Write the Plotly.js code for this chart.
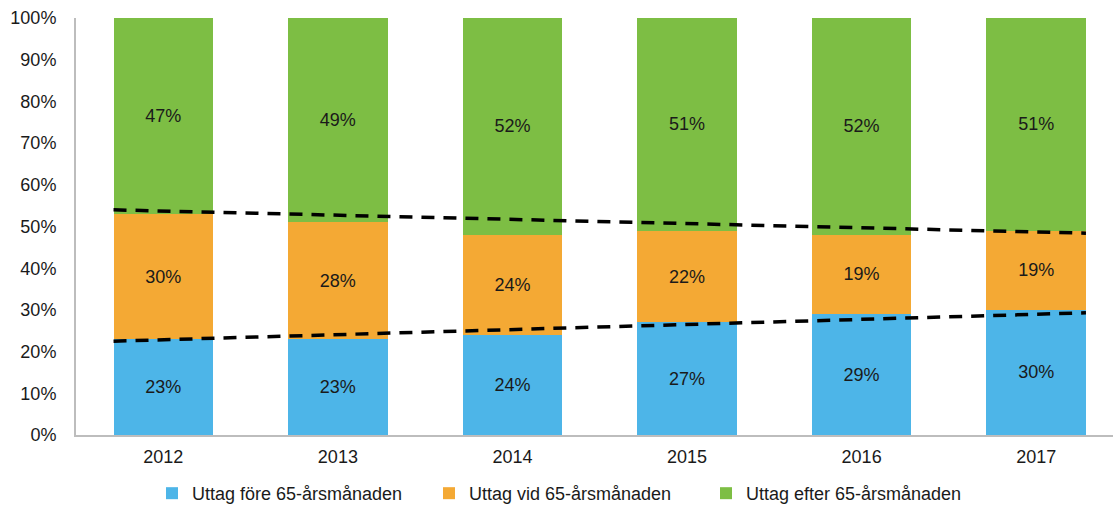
<!DOCTYPE html>
<html>
<head>
<meta charset="utf-8">
<script src="https://cdn.plot.ly/plotly-3.0.1.min.js"></script>
<style>html,body{margin:0;padding:0;background:#fff}#chart{width:1113px;height:506px}</style>
</head>
<body>
<div id="chart"></div>
<script>
const years = [2012, 2013, 2014, 2015, 2016, 2017];
const seriesNames = ["Uttag före 65-årsmånaden", "Uttag vid 65-årsmånaden", "Uttag efter 65-årsmånaden"];
const fore = [23, 23, 24, 27, 29, 30];
const vid = [30, 28, 24, 22, 19, 19];
const efter = [47, 49, 52, 51, 52, 51];
// trend line values (percent) read at the outer edges of the first and last bar
const trendLowerEnds = [22.5, 29.3];
const trendUpperEnds = [54.0, 48.4];
const yTickVals = [0, 10, 20, 30, 40, 50, 60, 70, 80, 90, 100];
const yTickText = yTickVals.map(v => v + "%");
const colors = ["#4DB5E8", "#F4A934", "#7DBE44"];

const barWidth = 0.57;
const trendX = [years[0] - barWidth / 2, years[years.length - 1] + barWidth / 2];
const tickText = years.map(String);
const FONT = "Liberation Sans, Arial, sans-serif";

const mkBar = (vals, i) => ({
  type: "bar",
  x: years,
  y: vals,
  name: seriesNames[i],
  width: barWidth,
  marker: {color: colors[i], line: {width: 0}},
  text: vals.map(v => v + "%"),
  textposition: "inside",
  insidetextanchor: "middle",
  textfont: {color: "#1a1a1a", size: 18, family: FONT},
  hoverinfo: "skip"
});

const data = [
  mkBar(fore, 0), mkBar(vid, 1), mkBar(efter, 2),
  {type: "scatter", mode: "lines", x: trendX, y: trendLowerEnds, showlegend: false,
   line: {color: "#000", width: 3.5, dash: "13px,9px"}, hoverinfo: "skip"},
  {type: "scatter", mode: "lines", x: trendX, y: trendUpperEnds, showlegend: false,
   line: {color: "#000", width: 3.5, dash: "13px,9px"}, hoverinfo: "skip"}
];

const layout = {
  width: 1113, height: 506,
  margin: {l: 76, r: 0, t: 18, b: 71, autoexpand: false},
  barmode: "stack",
  paper_bgcolor: "#fff", plot_bgcolor: "#fff",
  font: {family: FONT, color: "#1a1a1a", size: 18},
  xaxis: {
    type: "linear", range: [2011.5, 2017.44], tickvals: years, ticktext: tickText,
    showgrid: false, zeroline: false, showline: true, linecolor: "#bdbdbd", linewidth: 2,
    ticks: "", ticklabelstandoff: 4, tickfont: {size: 18}, fixedrange: true, automargin: false
  },
  yaxis: {
    range: [0, 100], tickvals: yTickVals, ticktext: yTickText,
    showgrid: false, zeroline: false, showline: true, linecolor: "#bdbdbd", linewidth: 2,
    ticks: "", ticklabelstandoff: 14, tickfont: {size: 18}, fixedrange: true, automargin: false
  },
  showlegend: true,
  legend: {
    orientation: "h", x: 0.0733, xanchor: "left",
    yref: "container", y: 0.0613, yanchor: "top",
    font: {size: 18, family: FONT},
    traceorder: "normal", entrywidth: 232, entrywidthmode: "pixels", itemwidth: 30
  }
};

Plotly.newPlot("chart", data, layout, {displayModeBar: false, staticPlot: true});
</script>
</body>
</html>
